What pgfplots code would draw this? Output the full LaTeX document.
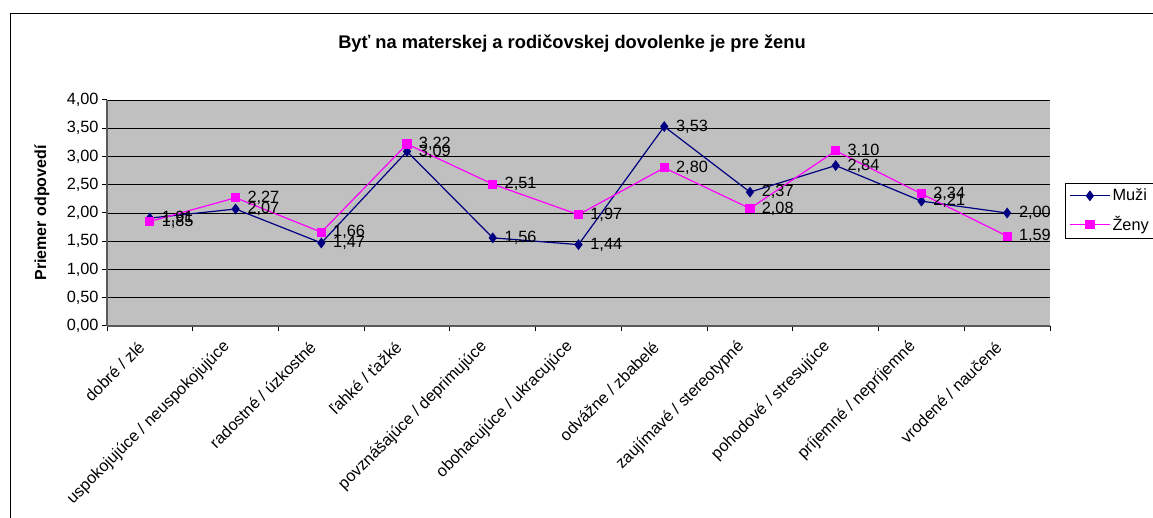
\documentclass[border=0pt]{standalone}
\usepackage{pgfplots}
\pgfplotsset{compat=1.18}
\usepackage{fontspec}
\setmainfont{Liberation Sans}
\definecolor{navy}{HTML}{000080}
\definecolor{mag}{HTML}{FF00FF}
\definecolor{silver}{HTML}{C0C0C0}
\newcommand{\tf}{\fontsize{16.3bp}{19bp}\selectfont}
\begin{document}
\begin{tikzpicture}[x=1bp,y=1bp]
\useasboundingbox (0,0) rectangle (1153,518);
\draw[line width=1bp] (10,504) rectangle (1170,-20);
\node[font=\fontsize{18.3bp}{21bp}\selectfont\bfseries] at (572,474) {Byť na materskej a rodičovskej dovolenke je pre ženu};
\begin{axis}[
  at={(107bp,192bp)}, anchor=south west,
  scale only axis, width=943bp, height=226bp,
  xmin=-0.5, xmax=10.5, ymin=0, ymax=4,
  ytick={0,0.5,...,4},
  xtick={-0.5,0.5,...,10.5}, xticklabels={},
  extra x ticks={0,1,...,10},
  extra x tick labels={dobré / zlé, uspokojujúce / neuspokojujúce, radostné / úzkostné, ľahké / ťažké, povznášajúce / deprimujúce, obohacujúce / ukracujúce, odvážne / zbabelé, zaujímavé / stereotypné, pohodové / stresujúce, príjemné / nepríjemné, vrodené / naučené},
  extra x tick style={major tick length=0pt, grid=none, tick label style={xshift=-6bp, yshift=-16bp, rotate=45, anchor=east, font=\tf}},
  ymajorgrids, major grid style={black, line width=0.9bp},
  axis background/.style={fill=silver},
  axis lines*=left, axis line style={-, black!65, line width=1.2bp},
  tick align=outside, major tick length=5bp, tick style={black, line width=1bp},
  tick label style={font=\tf},
  ylabel={Priemer odpovedí},
  ylabel style={font=\fontsize{16bp}{19bp}\selectfont\bfseries, at={(axis description cs:-0.069,0.5)}, anchor=center},
  legend style={at={(axis description cs:1.016,0.633)}, anchor=north west, draw=black, font=\tf, legend cell align=left, row sep=10bp, inner sep=4bp},
  legend image code/.code={\draw[mark repeat=2,mark phase=2,#1] plot coordinates {(0bp,0bp) (20bp,0bp) (40bp,0bp)};},
  nodes near coords,
  every node near coord/.append style={anchor=west, font=\tf, black, xshift=8bp},
  /pgf/number format/.cd, use comma, fixed, fixed zerofill, precision=2, assume math mode=true,
]
\addplot[navy, line width=1.2bp, mark=diamond*, mark size=4.5bp, mark options={fill=navy}] coordinates {
(0,1.91) (1,2.07) (2,1.47) (3,3.09) (4,1.56) (5,1.44) (6,3.53) (7,2.37) (8,2.84) (9,2.21) (10,2.00)};
\addlegendentry{Muži}
\addplot[mag, line width=1.2bp, mark=square*, mark size=4bp, mark options={fill=mag}] coordinates {
(0,1.85) (1,2.27) (2,1.66) (3,3.22) (4,2.51) (5,1.97) (6,2.80) (7,2.08) (8,3.10) (9,2.34) (10,1.59)};
\addlegendentry{Ženy}
\end{axis}
\end{tikzpicture}
\end{document}
